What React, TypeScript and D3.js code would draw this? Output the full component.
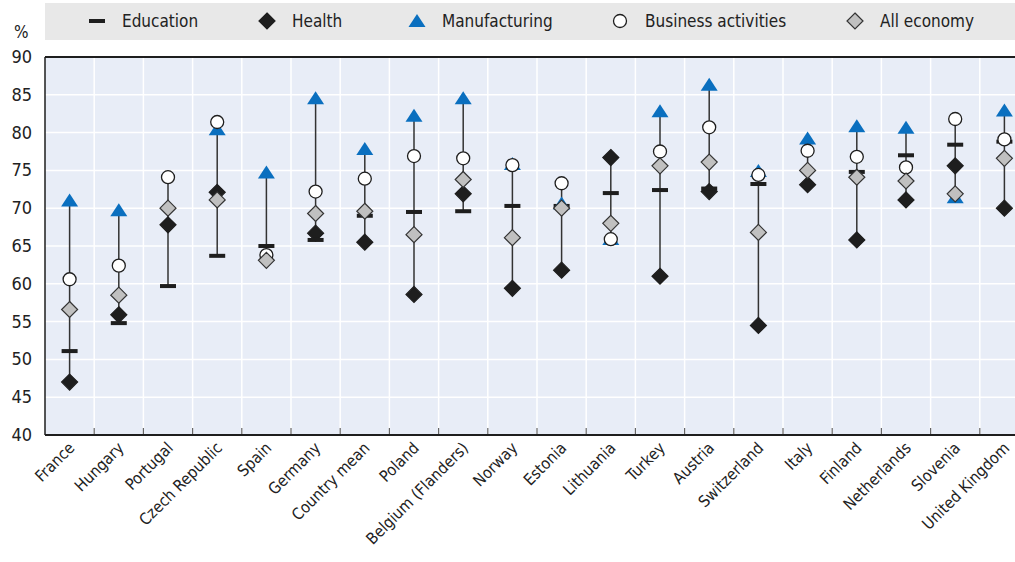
import React from "react";
import * as d3 from "d3";

const categories = ["France","Hungary","Portugal","Czech Republic","Spain","Germany","Country mean","Poland","Belgium (Flanders)","Norway","Estonia","Lithuania","Turkey","Austria","Switzerland","Italy","Finland","Netherlands","Slovenia","United Kingdom"];
const education: (number|null)[] = [51.1,54.8,59.7,63.7,65.0,65.8,69.0,69.5,69.6,70.3,70.3,72.0,72.4,72.6,73.2,null,74.8,77.0,78.4,78.8];
const health: (number|null)[] = [47.0,55.9,67.8,72.1,null,66.7,65.5,58.6,71.9,59.4,61.8,76.7,61.0,72.2,54.5,73.1,65.8,71.1,75.6,70.0];
const manufacturing: (number|null)[] = [70.9,69.6,null,80.3,74.6,84.4,77.7,82.1,84.4,75.7,70.5,65.8,82.7,86.2,74.8,79.1,80.7,80.5,71.3,82.8];
const business: (number|null)[] = [60.6,62.4,74.1,81.4,63.8,72.2,73.9,76.9,76.6,75.7,73.3,65.9,77.5,80.7,74.4,77.6,76.8,75.4,81.8,79.1];
const allEconomy: (number|null)[] = [56.6,58.5,70.0,71.1,63.1,69.3,69.6,66.5,73.8,66.1,70.0,68.0,75.6,76.1,66.8,75.0,74.1,73.6,71.9,76.6];
const yTicks = [40,45,50,55,60,65,70,75,80,85,90];
const legendItems = ["Education","Health","Manufacturing","Business activities","All economy"];

const FONT = "'Liberation Sans Narrow','DejaVu Sans Condensed','Roboto Condensed',Arial,sans-serif";
const BLUE = "#0a6fbf";
const GRAY = "#c0c0c0";
const DARK = "#1e1e1e";

function Diamond({ x, y, fill, stroke }: { x: number; y: number; fill: string; stroke: string }) {
  const r = 8;
  return <path d={`M${x},${y - r}L${x + r},${y}L${x},${y + r}L${x - r},${y}Z`} fill={fill} stroke={stroke} strokeWidth={1.2} />;
}
function Tri({ x, y }: { x: number; y: number }) {
  return <path d={`M${x},${y - 8}L${x + 8.5},${y + 5}L${x - 8.5},${y + 5}Z`} fill={BLUE} />;
}
function Circ({ x, y }: { x: number; y: number }) {
  return <circle cx={x} cy={y} r={6.5} fill="#fff" stroke={DARK} strokeWidth={1.3} />;
}
function Dash({ x, y }: { x: number; y: number }) {
  return <rect x={x - 8} y={y - 2} width={16} height={4} fill={DARK} />;
}

export default function App() {
  const W = 1015, H = 562;
  const left = 45, right = 1029, top = 57, bottom = 435;
  const x = d3.scaleBand<string>().domain(categories).range([left, right]).padding(0);
  const y = d3.scaleLinear().domain([40, 90]).range([bottom, top]);
  const bw = x.bandwidth();

  const legendX = [97, 267, 417, 620, 855];

  return (
    <div style={{ position: "absolute", left: 0, top: 0 }}>
      <svg width={W} height={H} style={{ display: "block", overflow: "hidden" }} fontFamily={FONT}>
        <rect x={0} y={0} width={W} height={H} fill="#fff" />
        {/* legend */}
        <rect x={45} y={3} width={W - 45} height={37} fill="#e8e8e8" />
        {legendItems.map((name, i) => {
          const lx = legendX[i];
          const ly = 21;
          let sym: React.ReactNode = null;
          if (i === 0) sym = <Dash x={lx} y={ly} />;
          if (i === 1) sym = <Diamond x={lx} y={ly} fill={DARK} stroke={DARK} />;
          if (i === 2) sym = <Tri x={lx} y={ly + 1} />;
          if (i === 3) sym = <Circ x={lx} y={ly} />;
          if (i === 4) sym = <Diamond x={lx} y={ly} fill={GRAY} stroke="#333" />;
          return (
            <g key={name}>
              {sym}
              <text x={lx + 25} y={ly + 6} fontSize={17} fill="#222">{name}</text>
            </g>
          );
        })}
        <text x={14} y={38} fontSize={17} fill="#222">%</text>

        {/* plot background */}
        <rect x={left} y={top} width={right - left} height={bottom - top} fill="#e8edf7" />
        {yTicks.map((t) => (
          <line key={t} x1={left} x2={right} y1={y(t)} y2={y(t)} stroke="#fff" strokeWidth={1.5} />
        ))}
        {categories.slice(1).map((c) => (
          <line key={c} x1={x(c)!} x2={x(c)!} y1={top} y2={bottom} stroke="#fff" strokeWidth={1.5} />
        ))}
        {categories.slice(1).map((c) => (
          <line key={"t" + c} x1={x(c)!} x2={x(c)!} y1={bottom - 7} y2={bottom} stroke="#666" strokeWidth={1.2} />
        ))}
        <line x1={left} x2={right} y1={top} y2={top} stroke={DARK} strokeWidth={2} />
        <line x1={left} x2={right} y1={bottom} y2={bottom} stroke={DARK} strokeWidth={2} />
        <line x1={left} x2={left} y1={top} y2={bottom} stroke={DARK} strokeWidth={1.5} />

        {yTicks.map((t) => (
          <text key={t} x={32} y={y(t) + 6} textAnchor="end" fontSize={18} fill="#222">{t}</text>
        ))}

        {categories.map((c, i) => {
          const cx = x(c)! + bw / 2;
          const vals = [education[i], health[i], manufacturing[i], business[i], allEconomy[i]].filter((v) => v != null) as number[];
          const mn = d3.min(vals)!, mx = d3.max(vals)!;
          return (
            <g key={c}>
              <line x1={cx} x2={cx} y1={y(mx)} y2={y(mn)} stroke="#333" strokeWidth={1.5} />
              {health[i] != null && <Diamond x={cx} y={y(health[i]!)} fill={DARK} stroke={DARK} />}
              {education[i] != null && <Dash x={cx} y={y(education[i]!)} />}
              {manufacturing[i] != null && <Tri x={cx} y={y(manufacturing[i]!)} />}
              {business[i] != null && <Circ x={cx} y={y(business[i]!)} />}
              {allEconomy[i] != null && <Diamond x={cx} y={y(allEconomy[i]!)} fill={GRAY} stroke="#333" />}
            </g>
          );
        })}

        {categories.map((c) => {
          const cx = x(c)! + bw / 2;
          return (
            <text key={"l" + c} transform={`translate(${cx + 6},${bottom + 14}) rotate(-45)`} textAnchor="end" fontSize={16} fill="#222">{c}</text>
          );
        })}
      </svg>
    </div>
  );
}
